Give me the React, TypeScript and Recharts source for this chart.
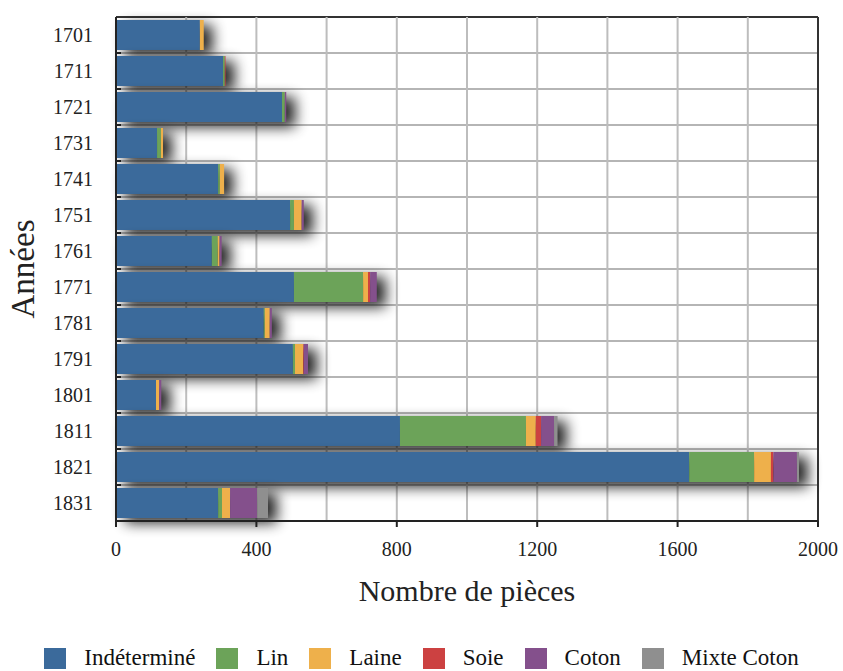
import React from 'react';
import { BarChart, Bar, XAxis, YAxis, CartesianGrid, Legend } from 'recharts';

const years = ['1701', '1711', '1721', '1731', '1741', '1751', '1761', '1771', '1781', '1791', '1801', '1811', '1821', '1831'];
const indetermine = [239, 305, 473, 117, 291, 496, 273, 507, 421, 504, 114, 809, 1633, 291];
const lin = [0, 5, 8, 11, 5, 11, 17, 197, 3, 6, 0, 359, 185, 11];
const laine = [11, 0, 0, 6, 12, 22, 5, 14, 14, 23, 9, 28, 48, 23];
const soie = [0, 2, 0, 0, 0, 0, 0, 6, 0, 2, 0, 15, 7, 0];
const coton = [0, 0, 4, 0, 0, 6, 6, 19, 6, 12, 6, 37, 67, 77];
const mixteCoton = [0, 0, 0, 0, 0, 0, 0, 0, 0, 0, 0, 10, 6, 31];
const xTicks = [0, 400, 800, 1200, 1600, 2000];
const gridSteps = [0, 200, 400, 600, 800, 1000, 1200, 1400, 1600, 1800, 2000];

const series = [
  { key: 'ind', name: 'Indéterminé', color: '#3b6a9b' },
  { key: 'lin', name: 'Lin', color: '#6ca359' },
  { key: 'laine', name: 'Laine', color: '#eeb04b' },
  { key: 'soie', name: 'Soie', color: '#cc4141' },
  { key: 'coton', name: 'Coton', color: '#84508c' },
  { key: 'mixte', name: 'Mixte Coton', color: '#8f8f8f' },
];

const data = years.map((year, i) => ({
  year,
  ind: indetermine[i],
  lin: lin[i],
  laine: laine[i],
  soie: soie[i],
  coton: coton[i],
  mixte: mixteCoton[i],
}));

const FONT = '"Liberation Serif", "DejaVu Serif", serif';

// first segment also paints one shadow for the whole stack, underneath everything
function FirstSegment(props: any) {
  const { x, y, width, height, payload, fill } = props;
  const total = series.reduce((s, sr) => s + (payload[sr.key] || 0), 0);
  const full = payload.ind > 0 ? (width * total) / payload.ind : width;
  return (
    <g>
      <rect x={x} y={y} width={full} height={height} fill="#000" filter="url(#barShadow)" />
      <rect x={x} y={y} width={width} height={height} fill={fill} />
    </g>
  );
}

function HLine(props: any) {
  const { x1, y1, x2, y2, index } = props;
  if (index === 0) {
    return <line x1={x1} y1={y1} x2={x2} y2={y2} stroke="#333" strokeWidth={2} />;
  }
  return (
    <g>
      <line x1={x1} y1={y1} x2={x2} y2={y2} stroke="#b5b5b5" strokeWidth={2} />
      <line x1={x1} y1={y1} x2={x1 + 5} y2={y2} stroke="#222" strokeWidth={2} />
    </g>
  );
}

function VLine(props: any) {
  const { x1, y1, x2, y2, index } = props;
  const last = index === gridSteps.length - 1;
  return <line x1={x1} y1={y1} x2={x2} y2={y2} stroke={last ? '#333' : '#bdbdbd'} strokeWidth={2} />;
}

function LegendBox() {
  return (
    <div style={{ display: 'flex', justifyContent: 'center', alignItems: 'flex-end', height: 40, fontFamily: FONT, fontSize: 23, color: '#111' }}>
      {series.map((s, i) => (
        <div key={s.key} style={{ display: 'flex', alignItems: 'center', marginRight: i === series.length - 1 ? 0 : 21 }}>
          <span style={{ width: 22, height: 21, background: s.color, display: 'inline-block', marginRight: 18 }} />
          <span>{s.name}</span>
        </div>
      ))}
    </div>
  );
}

export default function App() {
  return (
    <div style={{ position: 'absolute', left: 0, top: 0 }}>
      <BarChart
        width={843}
        height={671}
        data={data}
        layout="vertical"
        margin={{ top: 17, right: 25, bottom: 0, left: 0 }}
        barSize={30}
      >
        <defs>
          <filter id="barShadow" filterUnits="userSpaceOnUse" x="0" y="0" width="843" height="671">
            <feGaussianBlur in="SourceAlpha" stdDeviation="7" />
            <feOffset dx="9" dy="5" />
            <feComponentTransfer>
              <feFuncA type="linear" slope="0.85" />
            </feComponentTransfer>
          </filter>
        </defs>
        <CartesianGrid
          horizontal={(p: any) => <HLine {...p} />}
          vertical={(p: any) => <VLine {...p} />}
          horizontalCoordinatesGenerator={({ offset }: any) =>
            years.map((_, i) => offset.top + (i * offset.height) / years.length).concat(offset.top + offset.height)
          }
          verticalCoordinatesGenerator={({ offset }: any) =>
            gridSteps.map((v) => offset.left + (v / 2000) * offset.width)
          }
        />
        <XAxis
          type="number"
          domain={[0, 2000]}
          ticks={xTicks}
          height={110}
          tickSize={6}
          tickMargin={15}
          axisLine={{ stroke: '#222', strokeWidth: 2 }}
          tickLine={{ stroke: '#222', strokeWidth: 2 }}
          tick={{ fill: '#222', fontSize: 20, fontFamily: FONT }}
          label={{
            content: ({ viewBox }: any) => (
              <text x={viewBox.x + viewBox.width / 2} y={viewBox.y + 80} textAnchor="middle" fill="#222" fontSize={30} fontFamily={FONT}>
                Nombre de pièces
              </text>
            ),
          }}
        />
        <YAxis
          type="category"
          dataKey="year"
          width={116}
          tickSize={6}
          tickMargin={17}
          tickLine={false}
          axisLine={{ stroke: '#222', strokeWidth: 2 }}
          tick={{ fill: '#222', fontSize: 20, fontFamily: FONT }}
          label={{
            content: ({ viewBox }: any) => {
              const cy = viewBox.y + viewBox.height / 2;
              return (
                <text x={34} y={cy} transform={`rotate(-90, 34, ${cy})`} textAnchor="middle" fill="#222" fontSize={33} fontFamily={FONT}>
                  Années
                </text>
              );
            },
          }}
        />
        <Legend
          verticalAlign="bottom"
          height={40}
          wrapperStyle={{ left: 0, width: 843, bottom: 0 }}
          content={() => <LegendBox />}
        />
        {series.map((s, i) => (
          <Bar
            key={s.key}
            dataKey={s.key}
            name={s.name}
            stackId="a"
            fill={s.color}
            isAnimationActive={false}
            shape={i === 0 ? (p: any) => <FirstSegment {...p} /> : undefined}
          />
        ))}
      </BarChart>
    </div>
  );
}
